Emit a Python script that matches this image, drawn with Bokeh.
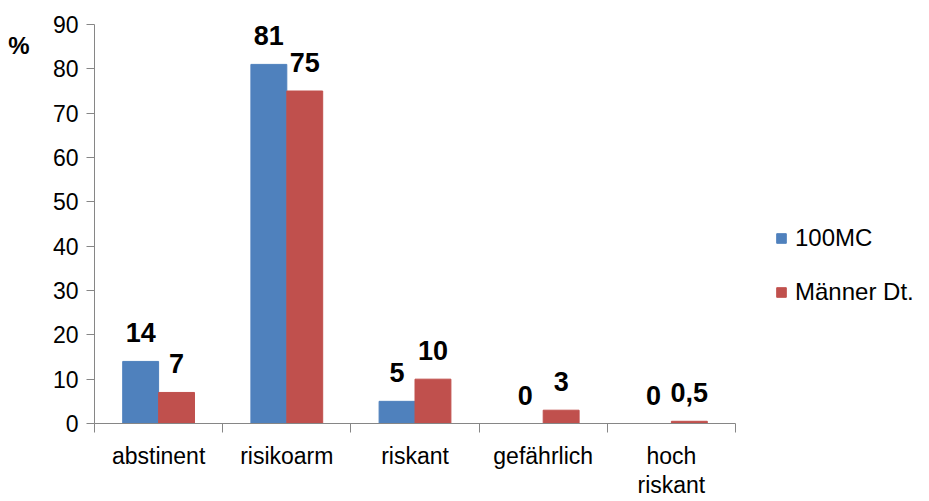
from bokeh.plotting import figure
from bokeh.models import (Range1d, LinearAxis, FixedTicker,
                          ColumnDataSource, LabelSet, Legend, LegendItem)
from bokeh.core.properties import value
from bokeh.transform import dodge
from bokeh.embed import file_html
from bokeh.resources import INLINE

# ---- data ----
categories = ["abstinent", "risikoarm", "riskant", "gefährlich", "hoch\nriskant"]
series_names = ["100MC", "Männer Dt."]
values_100mc = [14, 81, 5, 0, 0]
values_maenner = [7, 75, 10, 3, 0.5]
y_ticks = [0, 10, 20, 30, 40, 50, 60, 70, 80, 90]
y_unit = "%"

BLUE = "#4F81BD"
RED = "#C0504D"
AXIS_GRAY = "#868686"
FONT = "Liberation Sans"
UNIT_POS = 85.3        # vertical placement of the "%" unit label (style only)
CAT_FRAC = 641 / 831   # share of the frame width used by the categories (rest: legend area)


def fmt(v):
    return str(int(v)) if float(v).is_integer() else str(v).replace(".", ",")


n = len(categories)
centers = [i + 0.5 for i in range(n)]

src = ColumnDataSource(dict(
    xc=centers,
    a=values_100mc,
    b=values_maenner,
    a_lbl=[fmt(v) for v in values_100mc],
    b_lbl=[fmt(v) for v in values_maenner],
))

p = figure(
    x_range=Range1d(0, n / CAT_FRAC),
    y_range=Range1d(y_ticks[0], y_ticks[-1]),
    width=929, height=501,
    min_border_left=94, min_border_right=4, min_border_top=24, min_border_bottom=78,
    x_axis_location=None,
    output_backend="svg", toolbar_location=None,
)
p.outline_line_color = None
p.xgrid.grid_line_color = None
p.ygrid.grid_line_color = None
p.background_fill_color = "white"

# y axis
ya = p.yaxis[0]
ya.ticker = FixedTicker(ticks=y_ticks)
ya.axis_line_color = AXIS_GRAY
ya.major_tick_line_color = AXIS_GRAY
ya.major_tick_out = 8
ya.major_tick_in = 0
ya.minor_tick_line_color = None
ya.major_label_standoff = 8
ya.major_label_text_font = FONT
ya.major_label_text_font_size = "23px"
ya.major_label_text_color = "black"

# unit label "%" left of the y tick labels
unit_axis = LinearAxis(ticker=FixedTicker(ticks=[UNIT_POS]),
                       major_label_overrides={UNIT_POS: y_unit})
unit_axis.axis_line_color = None
unit_axis.major_tick_line_color = None
unit_axis.minor_tick_line_color = None
unit_axis.major_tick_out = 0
unit_axis.major_tick_in = 0
unit_axis.major_label_standoff = 20
unit_axis.major_label_text_font = FONT
unit_axis.major_label_text_font_size = "24px"
unit_axis.major_label_text_font_style = "bold"
unit_axis.major_label_text_color = "black"
p.add_layout(unit_axis, "left")

# x axis: tick marks at category boundaries
tick_axis = LinearAxis(ticker=FixedTicker(ticks=list(range(n + 1))), bounds=(0, n))
tick_axis.axis_line_color = AXIS_GRAY
tick_axis.major_tick_line_color = AXIS_GRAY
tick_axis.major_tick_out = 9
tick_axis.major_tick_in = 0
tick_axis.minor_tick_line_color = None
tick_axis.major_label_text_font_size = "0px"
tick_axis.major_label_text_alpha = 0
tick_axis.major_label_standoff = 0
p.add_layout(tick_axis, "below")

# x axis: category names at category centres
cat_axis = LinearAxis(ticker=FixedTicker(ticks=centers),
                      major_label_overrides={c: name for c, name in zip(centers, categories)})
cat_axis.axis_line_color = None
cat_axis.major_tick_line_color = None
cat_axis.minor_tick_line_color = None
cat_axis.major_tick_out = 0
cat_axis.major_tick_in = 0
cat_axis.major_label_standoff = 10
cat_axis.major_label_text_font = FONT
cat_axis.major_label_text_font_size = "23px"
cat_axis.major_label_text_line_height = 1.15
cat_axis.major_label_text_color = "black"
p.add_layout(cat_axis, "below")

# bars
off = 0.14
w = 0.28
r_a = p.vbar(x=dodge("xc", -off), top="a", width=w, bottom=0,
             source=src, fill_color=BLUE, line_color=BLUE)
r_b = p.vbar(x=dodge("xc", off), top="b", width=w, bottom=0,
             source=src, fill_color=RED, line_color=RED)

# value labels
for col, lbl, o in (("a", "a_lbl", -off), ("b", "b_lbl", off)):
    ls = LabelSet(x=dodge("xc", o), y=col, text=lbl, source=src,
                  y_offset=19, text_align="center", text_baseline="alphabetic",
                  text_font=value(FONT), text_font_size=value("27px"),
                  text_font_style=value("bold"), text_color=value("black"))
    p.add_layout(ls)

legend = Legend(items=[LegendItem(label=series_names[0], renderers=[r_a]),
                       LegendItem(label=series_names[1], renderers=[r_b])],
                location=(681, 117), orientation="vertical")
legend.background_fill_alpha = 0
legend.border_line_color = None
legend.padding = 0
legend.margin = 0
legend.spacing = 26
legend.glyph_width = 12
legend.glyph_height = 12
legend.label_height = 22
legend.label_standoff = 8
legend.label_text_font = FONT
legend.label_text_font_size = "24px"
legend.label_text_color = "black"
legend.label_text_baseline = "middle"
p.add_layout(legend)

open("out.html", "w").write(file_html(p, INLINE))
